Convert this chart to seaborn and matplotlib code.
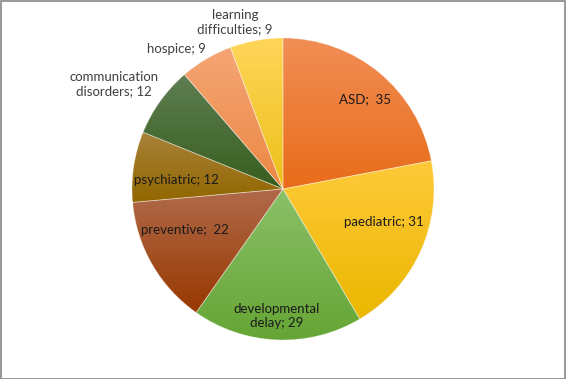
import matplotlib
matplotlib.use("Agg")
import matplotlib.pyplot as plt
import seaborn as sns
import numpy as np
from matplotlib.patches import Rectangle

# --- data ---
categories = ["ASD", "paediatric", "developmental\ndelay", "preventive",
              "psychiatric", "communication\ndisorders", "hospice",
              "learning\ndifficulties"]
values = [35, 31, 29, 22, 12, 12, 9, 9]
label_text = ["ASD;  35", "paediatric; 31", "developmental\ndelay; 29",
              "preventive;  22", "psychiatric; 12",
              "communication\ndisorders; 12", "hospice; 9",
              "learning\ndifficulties; 9"]

# gradient colours (top, bottom) per slice
top_colors = ["#F18E55", "#FFCA3A", "#8BC068", "#B06A4A",
              "#A8823A", "#5E7E52", "#F5A574", "#FFD55A"]
bottom_colors = ["#E86C1A", "#EAB700", "#65A535", "#983800",
                 "#926700", "#385E1E", "#EC8844", "#EBC018"]

# label positions in pie-radius units (layout only)
label_pos = [(0.543, 0.596), (0.669, -0.219), (-0.040, -0.841),
             (-0.649, -0.272), (-0.709, 0.060), (-1.119, 0.695),
             (-0.705, 0.927), (-0.318, 1.106)]
label_outside = [False, False, False, False, False, True, True, True]

sns.set_style("white")
plt.rcParams['font.family'] = ['Lato', 'DejaVu Sans']

fig = plt.figure(figsize=(5.66, 3.79), dpi=100)
ax = fig.add_axes([0, 0, 1, 1])
ax.set_xlim(-283 / 151, 283 / 151)
ax.set_ylim(-190 / 151, 189 / 151)
ax.axis("off")

wedges, _ = ax.pie(values, startangle=90, counterclock=False, radius=1.0,
                   center=(0, 0), frame=True,
                   wedgeprops=dict(facecolor="none", edgecolor="none"))
ax.set_xlim(-283 / 151, 283 / 151)
ax.set_ylim(-190 / 151, 189 / 151)
ax.set_aspect("auto")
ax.axis("off")

for w, c_top, c_bot in zip(wedges, top_colors, bottom_colors):
    verts = w.get_path().vertices
    path = w.get_patch_transform().transform(verts)
    x0, y0 = path.min(axis=0)
    x1, y1 = path.max(axis=0)
    grad = np.array(sns.blend_palette([c_top, c_bot], 64))
    img = grad[:, None, :]
    im = ax.imshow(img, extent=(x0, x1, y0, y1), origin="upper",
                   aspect="auto", interpolation="bilinear", zorder=1)
    im.set_clip_path(w)
    w.set_edgecolor((1, 1, 1, 0.35))
    w.set_linewidth(0.6)
    w.set_zorder(2)

for txt, (lx, ly), outside in zip(label_text, label_pos, label_outside):
    ax.text(lx, ly, txt, ha="center", va="center", fontsize=9.5,
            color="#404040" if outside else "#1a1a1a",
            linespacing=1.15, zorder=3)

fig.patches.append(Rectangle((0.001, 0.001), 0.997, 0.996,
                             transform=fig.transFigure, fill=False,
                             edgecolor="#878787", linewidth=1.2))

fig.savefig("out.png", dpi=100)
